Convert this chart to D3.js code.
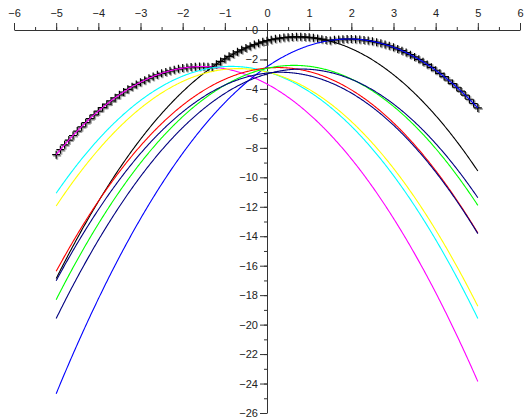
<!DOCTYPE html>
<html>
<head>
<meta charset="utf-8">
<script src="https://cdn.jsdelivr.net/npm/d3@7"></script>
<style>
  body { margin: 0; background: #fff; }
  svg { display: block; }
  .axis text { font-family: "Liberation Sans", Arial, sans-serif; font-size: 11px; fill: #222; }
  .axis path, .axis line { stroke: #333; }
</style>
</head>
<body>
<svg id="chart"></svg>
<script>
// parabolas y = -0.5 * (x - vertexX)^2 + vertexY
var curveColors = ["#ff00ff", "#0000ff", "#000000", "#00ffff", "#ffff00", "#ff0000", "#00ff00", "#000080", "#000080"];
var vertexX = [-1.54, 1.94, 0.73, -0.85, -0.68, 0.26, 0.64, 0.32, 0.82];
var vertexY = [-2.48, -0.61, -0.46, -2.47, -2.62, -2.55, -2.40, -2.87, -2.65];
var curvature = 0.5;
var xRange = [-5, 5];
var xTicks = [-6, -5, -4, -3, -2, -1, 0, 1, 2, 3, 4, 5, 6];
var yTicks = [0, -2, -4, -6, -8, -10, -12, -14, -16, -18, -20, -22, -24, -26];

var width = 526, height = 420;

var svg = d3.select("#chart")
    .attr("width", width)
    .attr("height", height);

var xscale = d3.scaleLinear().domain([-6, 6]).range([14, 520]);
var yscale = d3.scaleLinear().domain([0, -26]).range([30, 413]);

var fmt = function(d) { return d < 0 ? "\u2212" + Math.abs(d) : "" + d; };

// minor ticks first
svg.append("g")
    .attr("class", "axis")
    .attr("transform", "translate(0," + yscale(0) + ")")
    .call(d3.axisTop(xscale).ticks(24).tickSize(3).tickFormat(""))
    .select(".domain").remove();

svg.append("g")
    .attr("class", "axis")
    .attr("transform", "translate(" + xscale(0) + ",0)")
    .call(d3.axisLeft(yscale).tickValues(d3.range(0, -27, -1)).tickSize(3).tickFormat(""))
    .select(".domain").remove();

// major x axis (ticks up, labels above)
svg.append("g")
    .attr("class", "axis")
    .attr("transform", "translate(0," + yscale(0) + ")")
    .call(d3.axisTop(xscale).tickValues(xTicks).tickSize(7).tickSizeOuter(0).tickPadding(6).tickFormat(fmt));

// major y axis
svg.append("g")
    .attr("class", "axis")
    .attr("transform", "translate(" + xscale(0) + ",0)")
    .call(d3.axisLeft(yscale).tickValues(yTicks).tickSize(7).tickSizeOuter(0).tickPadding(2).tickFormat(fmt));

function parab(i, x) { return -curvature * (x - vertexX[i]) * (x - vertexX[i]) + vertexY[i]; }

var xs = d3.range(xRange[0], xRange[1] + 1e-9, 0.02);
var line = d3.line()
    .x(function(d) { return xscale(d[0]); })
    .y(function(d) { return yscale(d[1]); });

// upper envelope markers, every 0.1
var env = d3.range(0, 101).map(function(k) {
  var x = xRange[0] + k * 0.1;
  return [x, d3.max(curveColors, function(c, i) { return parab(i, x); })];
});

function plus(dx) {
  return function(d) {
    var px = xscale(d[0]) + dx, py = yscale(d[1]) + dx;
    return "M" + (px - 4) + "," + py + "h8M" + px + "," + (py - 4) + "v8";
  };
}

var marks = svg.append("g");
marks.selectAll(".halo")
    .data(env)
    .enter().append("path")
    .attr("d", plus(1))
    .style("stroke", "#666")
    .style("stroke-width", 2)
    .style("stroke-opacity", 0.6)
    .style("fill", "none");
marks.selectAll(".plus")
    .data(env)
    .enter().append("path")
    .attr("d", plus(0))
    .style("stroke", "#000")
    .style("stroke-width", 1.2)
    .style("fill", "none");

svg.selectAll(".curve")
    .data(curveColors)
    .enter().append("path")
    .attr("class", "curve")
    .attr("d", function(c, i) { return line(xs.map(function(x) { return [x, parab(i, x)]; })); })
    .style("fill", "none")
    .style("stroke", function(c) { return c; })
    .style("stroke-width", 1.1);
</script>
</body>
</html>
